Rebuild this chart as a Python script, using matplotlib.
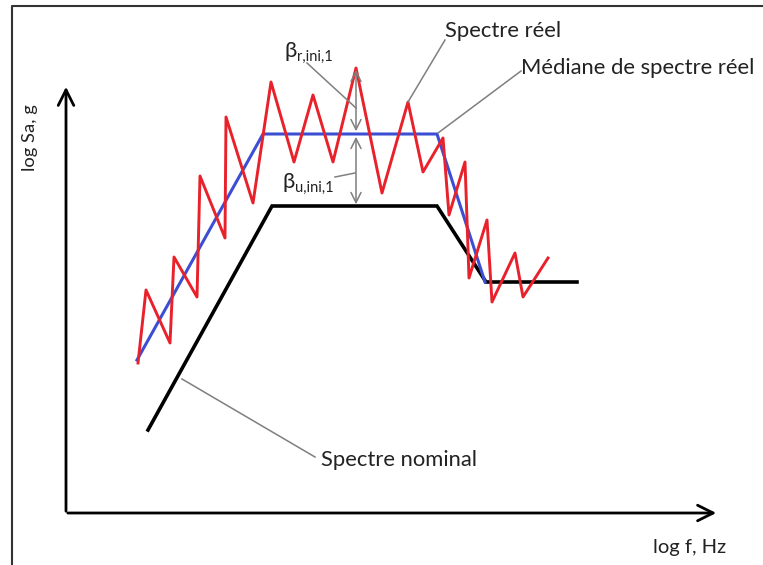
import matplotlib
matplotlib.use("Agg")
import matplotlib.pyplot as plt

# Schematic values in diagram units (pixel-like coordinates, y downward)
nominal_x = [148, 272, 437, 486, 577]
nominal_y = [430, 206, 206, 282, 282]
median_x = [137, 263, 437, 485]
median_y = [360, 134, 134, 282]
real_x = [138, 146, 170, 174, 197, 200, 225, 226, 253, 271, 294, 313, 333, 356,
          382, 408, 423, 443, 449, 465, 469, 487, 492, 515, 523, 548]
real_y = [363, 290, 343, 257, 297, 176, 238, 117, 203, 82, 162, 95, 162, 68,
          193, 102, 172, 138, 215, 162, 278, 220, 302, 253, 297, 258]

x_label = "log f, Hz"
y_label = "log Sa, g"
lbl_real = "Spectre réel"
lbl_median = "Médiane de spectre réel"
lbl_nominal = "Spectre nominal"

FONT = ["Lato", "DejaVu Sans"]
plt.rcParams['font.family'] = FONT

fig = plt.figure(figsize=(7.63, 5.65), dpi=100)
ax = fig.add_axes([0, 0, 1, 1])
ax.set_xlim(0, 763)
ax.set_ylim(565, 0)
ax.axis('off')

# frame (left and top)
ax.plot([12, 12, 763], [565, 6, 6], color='#333333', lw=1.5)

# axes with open arrows
ax.annotate('', xy=(66, 84), xytext=(66, 514),
            arrowprops=dict(arrowstyle='->', lw=2, color='black', mutation_scale=28))
ax.annotate('', xy=(719, 513), xytext=(65, 513),
            arrowprops=dict(arrowstyle='->', lw=2, color='black', mutation_scale=28))

ax.text(30, 138, y_label, rotation=90, ha='center', va='center', fontsize=13.2, color='#222222')
ax.text(690, 547, x_label, ha='center', va='center', fontsize=14.5, color='#222222')

# curves
ax.plot(nominal_x, nominal_y, color='black', lw=2.6, solid_joinstyle='miter')
ax.plot(median_x, median_y, color='#3c4fd2', lw=2.2)
ax.plot(real_x, real_y, color='#e8212b', lw=2.1)

# beta double arrows
gray = '#7f7f7f'
ax.annotate('', xy=(356, 67), xytext=(356, 134),
            arrowprops=dict(arrowstyle='<->', lw=1.1, color=gray, mutation_scale=18))
ax.annotate('', xy=(356, 134), xytext=(356, 207),
            arrowprops=dict(arrowstyle='<->', lw=1.1, color=gray, mutation_scale=18))

# leader lines
ax.plot([307, 356], [63, 108], color=gray, lw=1.1)
ax.plot([335, 355], [177, 173], color=gray, lw=1.1)
ax.plot([445, 408], [40, 102], color=gray, lw=1.1)
ax.plot([521, 438], [71, 133], color=gray, lw=1.1)
ax.plot([315, 182], [457, 379], color=gray, lw=1.1)

# labels
ax.text(284, 51, 'β', ha='left', va='center', fontsize=16, color='#222222')
ax.text(297, 57, 'r,ini,1', ha='left', va='center', fontsize=10.5, color='#222222')
ax.text(282, 182, 'β', ha='left', va='center', fontsize=16, color='#222222')
ax.text(295, 188, 'u,ini,1', ha='left', va='center', fontsize=10.5, color='#222222')

ax.text(445, 31, lbl_real, ha='left', va='center', fontsize=15.8, color='#222222')
ax.text(521, 68, lbl_median, ha='left', va='center', fontsize=15.8, color='#222222')
ax.text(321, 460, lbl_nominal, ha='left', va='center', fontsize=15.8, color='#222222')

fig.savefig('out.png', dpi=100)
